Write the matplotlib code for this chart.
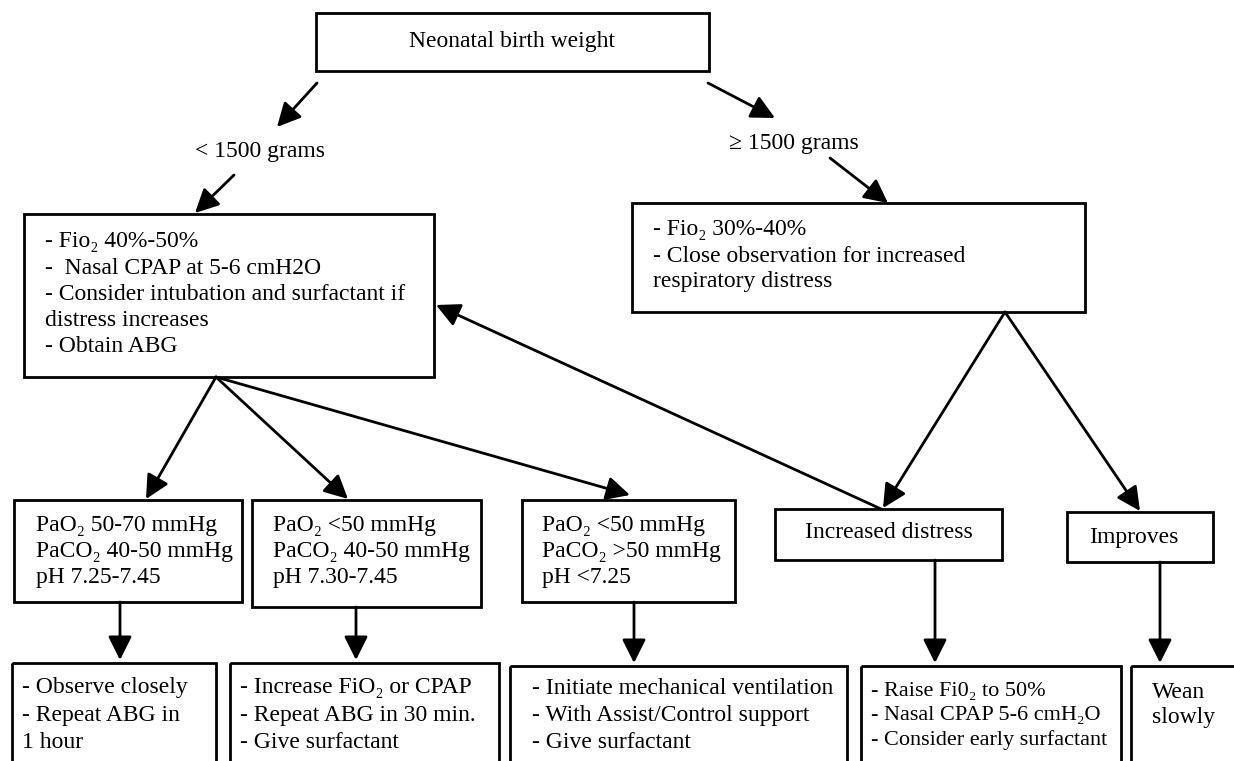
import matplotlib.pyplot as plt
from matplotlib.patches import Rectangle, FancyArrowPatch

plt.rcParams['font.family'] = ['Liberation Serif', 'DejaVu Serif']

# ---- texts of the flow chart ----
root_text = "Neonatal birth weight"
branch_labels = ["< 1500 grams", "\u2265 1500 grams"]
low_weight_steps = ["- Fio\u2082 40%-50%", "-  Nasal CPAP at 5-6 cmH2O",
                    "- Consider intubation and surfactant if",
                    "distress increases", "- Obtain ABG"]
high_weight_steps = ["- Fio\u2082 30%-40%", "- Close observation for increased",
                     "respiratory distress"]
abg_results = [
    ["PaO\u2082 50-70 mmHg", "PaCO\u2082 40-50 mmHg", "pH 7.25-7.45"],
    ["PaO\u2082 <50 mmHg", "PaCO\u2082 40-50 mmHg", "pH 7.30-7.45"],
    ["PaO\u2082 <50 mmHg", "PaCO\u2082 >50 mmHg", "pH <7.25"],
]
outcomes = ["Increased distress", "Improves"]
actions = [
    ["- Observe closely", "- Repeat ABG in", "1 hour"],
    ["- Increase FiO\u2082 or CPAP", "- Repeat ABG in 30 min.", "- Give surfactant"],
    ["- Initiate mechanical ventilation", "- With Assist/Control support",
     "- Give surfactant"],
    ["- Raise Fi0\u2082 to 50%", "- Nasal CPAP 5-6 cmH\u2082O",
     "- Consider early surfactant"],
    ["Wean", "slowly"],
]

# ---- layout, in pixels of the 1234x761 picture (y grows downward) ----
W, H = 1234, 761
FS = 17
LW = 2.0

fig = plt.figure(figsize=(W / 100, H / 100), dpi=100)
ax = fig.add_axes([0, 0, 1, 1])
ax.set_xlim(0, W)
ax.set_ylim(H, 0)
ax.axis('off')


def box(x0, y0, x1, y1):
    ax.add_patch(Rectangle((x0, y0), x1 - x0, y1 - y0, fill=False,
                           lw=LW, ec='black', clip_on=True))


def lines(x, y, dy, texts, fs=FS):
    for i, t in enumerate(texts):
        ax.text(x, y + i * dy, t, ha='left', va='center', fontsize=fs)


def arrow(p, q):
    ax.add_patch(FancyArrowPatch(p, q, arrowstyle='-|>,head_length=0.8,head_width=0.4',
                                 mutation_scale=18, lw=LW, color='black',
                                 shrinkA=0, shrinkB=0))


# root
box(316, 13, 709, 71)
ax.text(512, 42, root_text, ha='center', va='center', fontsize=FS)

# branches
arrow((317, 83), (277, 127))
ax.text(260, 152, branch_labels[0], ha='center', va='center', fontsize=FS)
arrow((234, 175), (195, 213))
arrow((708, 83), (775, 118))
ax.text(794, 143, branch_labels[1], ha='center', va='center', fontsize=FS)
arrow((830, 158), (888, 203))

# second level
box(24, 214, 434, 377)
lines(45, 242, 26, low_weight_steps)
box(632, 203, 1085, 312)
lines(653, 230, 26, high_weight_steps)

# ABG result boxes
abg_boxes = [(14, 500, 242, 602), (252, 500, 481, 607), (522, 500, 735, 602)]
fan = (216, 377)
abg_tips = [(146, 499), (348, 499), (630, 495)]
abg_text_x = [36, 273, 542]
for b, tip, tx, txt in zip(abg_boxes, abg_tips, abg_text_x, abg_results):
    box(*b)
    arrow(fan, tip)
    lines(tx, 526, 26, txt)

# outcome of the >= 1500 branch
apex = (1005, 312)
out_boxes = [(775, 509, 1002, 560), (1067, 512, 1213, 562)]
out_tips = [(883, 508), (1140, 511)]
out_text_x = [889, 1134]
out_text_y = [533, 538]
for b, tip, tx, ty, txt in zip(out_boxes, out_tips, out_text_x, out_text_y, outcomes):
    box(*b)
    arrow(apex, tip)
    ax.text(tx, ty, txt, ha='center', va='center', fontsize=FS)
# increased distress goes back to the < 1500 treatment
arrow((881, 509), (436, 305))

# bottom action boxes
act_boxes = [(12, 663, 216, 775), (230, 663, 499, 775), (510, 666, 847, 775),
             (861, 666, 1121, 775), (1131, 666, 1250, 775)]
act_text_x = [22, 240, 532, 871, 1152]
act_text_y = [688, 688, 688, 692, 692]
act_dy = [27, 27, 27, 24, 25]
act_fs = [FS, FS, FS, 16, FS]
drops = [(120, 602), (356, 607), (634, 602), (935, 560), (1160, 562)]
for b, tx, ty, dy, fs, txt, d in zip(act_boxes, act_text_x, act_text_y, act_dy,
                                     act_fs, actions, drops):
    box(*b)
    lines(tx, ty, dy, txt, fs)
    arrow(d, (d[0], b[1] - 3))

fig.savefig('out.png', dpi=100)
